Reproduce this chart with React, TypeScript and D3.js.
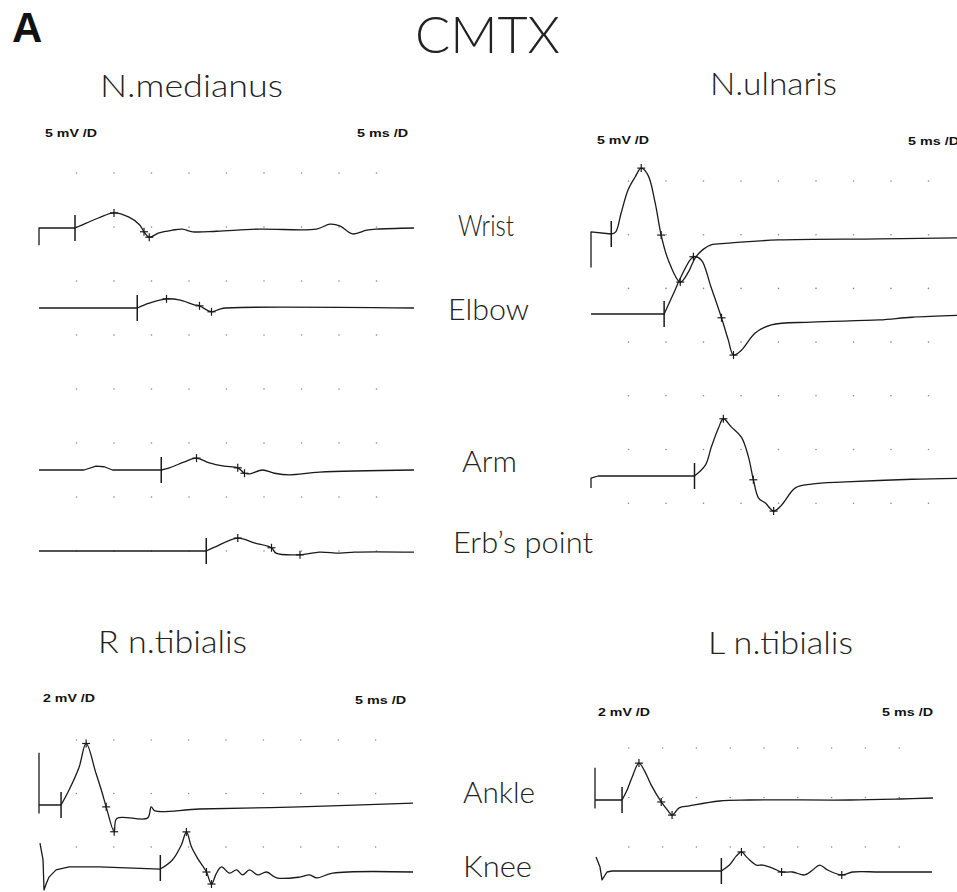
import React from "react";
import * as d3 from "d3";

// sweep: 10 divisions of 5 ms
const sweepMs = 50;
const timeGridMs = [5, 10, 15, 20, 25, 30, 35, 40, 45];

// traces as [ms, mV]
const medWrist: [number, number][] = [[0, -1.6], [0, 0], [4.8, 0], [6.3, 0.45], [8.0, 0.95], [10.0, 1.4], [12.0, 1.0], [13.4, 0.3], [14.0, -0.35], [14.7, -0.85], [16.0, -0.45], [17.8, -0.2], [19.1, -0.1], [20.5, -0.35], [23.7, -0.3], [29.4, -0.1], [37.0, -0.1], [38.8, 0.35], [40.1, 0.2], [41.8, -0.55], [43.7, -0.2], [45.0, -0.1], [50, 0]];
const medElbow: [number, number][] = [[0, 0], [13.1, 0], [14.7, 0.45], [17.0, 0.85], [18.7, 0.75], [20.7, 0.3], [21.4, 0.2], [23.0, -0.35], [24.1, -0.1], [24.9, 0], [50, 0]];
const medArm: [number, number][] = [[0, 0], [6.0, 0], [7.6, 0.35], [8.7, 0.3], [9.8, 0], [16.3, 0], [17.4, 0.2], [19.4, 0.75], [21.0, 1.1], [22.7, 0.65], [24.7, 0.35], [26.5, 0.2], [27.4, -0.3], [28.1, -0.35], [29.8, 0], [31.4, -0.3], [33.4, -0.45], [37.4, -0.2], [50, 0]];
const medErb: [number, number][] = [[0, 0], [22.3, 0], [23.4, 0.35], [26.5, 1.2], [28.7, 0.75], [31.0, 0.3], [31.6, -0.2], [34.8, -0.35], [37.4, -0.1], [40.1, -0.2], [42.1, -0.1], [50, -0.1]];

const ulnWrist: [number, number][] = [[0, -3.1], [0, 0.2], [2.7, 0], [3.3, 0.2], [4.0, 1.9], [4.95, 4.1], [5.9, 5.3], [6.7, 6.1], [7.6, 5.45], [8.55, 2.9], [9.35, -0.1], [10.3, -2.4], [11.9, -4.45], [13.0, -3.5], [13.9, -2.2], [15.0, -1.4], [16.0, -1.0], [18.3, -0.85], [25.0, -0.55], [38.4, -0.45], [48.7, -0.35], [50.4, -0.35]];
const ulnElbow: [number, number][] = [[0, 0], [9.75, 0], [11.2, 2.2], [12.0, 3.45], [13.65, 5.3], [14.7, 5.0], [16.0, 2.5], [17.4, -0.35], [18.3, -2.4], [19.0, -3.8], [20.05, -3.35], [21.9, -1.75], [24.05, -1.0], [29.4, -0.75], [38.4, -0.55], [42.8, -0.3], [50.4, -0.1]];
const ulnArm: [number, number][] = [[0, -1.1], [0, -0.2], [0.95, 0], [13.8, 0], [15.25, 1.0], [16.05, 2.7], [17.0, 4.45], [17.65, 5.3], [18.7, 4.55], [20.05, 3.6], [21.0, 1.75], [21.65, -0.35], [22.35, -2.05], [23.25, -2.5], [24.35, -3.25], [25.4, -2.7], [27.25, -1.1], [29.4, -0.75], [33.95, -0.55], [42.8, -0.3], [50.4, -0.2]];

const rtAnkle: [number, number][] = [[0, 1.95], [0, -0.3], [0, 0], [2.95, 0], [4.0, 0.55], [5.35, 1.4], [6.3, 2.3], [7.6, 1.2], [8.45, 0.45], [8.98, -0.07], [10.05, -1.0], [10.4, -0.5], [14.5, -0.49], [15.0, -0.07], [15.5, -0.22], [21.45, -0.15], [34.85, -0.07], [50, 0.07]];
const rtKnee: [number, number][] = [[0.13, 0.93], [0.54, 0.3], [0.67, -0.82], [0.95, -0.6], [1.34, -0.34], [2.28, -0.07], [4.02, 0.04], [8.04, 0.04], [16.22, -0.04], [17.83, 0.3], [19.03, 0.86], [19.71, 1.35], [20.38, 0.79], [21.18, 0.37], [22.39, -0.15], [23.06, -0.6], [23.73, -0.19], [24.4, 0.04], [25.47, -0.19], [26.41, -0.07], [27.21, -0.26], [28.15, -0.07], [29.22, -0.26], [30.43, -0.15], [31.77, -0.37], [34.85, -0.34], [36.19, -0.26], [37.13, -0.37], [39.28, -0.19], [50, -0.15]];

const ltAnkle: [number, number][] = [[0, 1.3], [0, -0.32], [0, 0], [4.0, 0], [4.75, 0.4], [5.5, 0.93], [6.5, 1.49], [7.27, 1.21], [8.3, 0.61], [9.8, -0.08], [10.7, -0.4], [11.4, -0.61], [12.45, -0.32], [13.95, -0.24], [18.4, -0.04], [22.85, 0], [37.7, 0], [45.1, 0.04], [50, 0.08]];
const ltKnee: [number, number][] = [[0.15, 0.57], [0.74, 0.16], [1.04, -0.36], [1.78, -0.04], [2.52, 0], [18.69, 0], [19.88, 0.24], [20.92, 0.61], [21.66, 0.77], [22.55, 0.53], [23.89, 0.24], [24.78, 0.24], [26.26, 0.12], [27.6, -0.04], [29.23, -0.04], [31.01, -0.16], [32.2, 0.04], [33.23, 0.24], [34.42, 0.04], [36.5, -0.16], [38.13, -0.04], [42.14, -0.04], [49.85, -0.04]];

// stimulus times (ms) and latency markers [ms, mV]
const medStim = [4.8, 13.1, 16.3, 22.3];
const medMarks: [number, number][][] = [
  [[10.0, 1.4], [14.0, -0.35], [14.7, -0.85]],
  [[17.0, 0.85], [21.4, 0.2], [23.0, -0.35]],
  [[21.0, 1.1], [26.5, 0.2], [27.4, -0.3]],
  [[26.5, 1.2], [31.0, 0.3], [34.8, -0.35]],
];
const ulnStim = [2.7, 9.75, 13.8];
const ulnMarks: [number, number][][] = [
  [[6.7, 6.1], [9.35, -0.1], [11.9, -4.45]],
  [[13.65, 5.3], [17.4, -0.35], [19.0, -3.8]],
  [[17.65, 5.3], [21.65, -0.35], [24.35, -3.25]],
];
const rtStim = [2.95, 16.22];
const rtMarks: [number, number][][] = [
  [[6.3, 2.3], [8.98, -0.07], [10.05, -1.0]],
  [[19.71, 1.35], [22.39, -0.15], [23.06, -0.6]],
];
const ltStim = [4.0, 18.69];
const ltMarks: [number, number][][] = [
  [[6.5, 1.49], [9.8, -0.08], [11.4, -0.61]],
  [[21.66, 0.77], [27.6, -0.04], [36.5, -0.16]],
];

const siteLabels = ["Wrist", "Elbow", "Arm", "Erb\u2019s point", "Ankle", "Knee"];
const panelTitles = ["N.medianus", "N.ulnaris", "R n.tibialis", "L n.tibialis"];
const gainLabels = ["5 mV /D", "5 mV /D", "2 mV /D", "2 mV /D"];
const sweepLabel = "5 ms /D";

const FONT = "Lato, 'Open Sans', 'Liberation Sans', sans-serif";
const BOLD = "'Liberation Sans', Arial, sans-serif";
const INK = "#1a1a1a";

type PanelCfg = {
  x0: number; w: number; gridTop: number; rowGap: number; rows: number; pxPerMv: number;
  bases: number[]; traces: [number, number][][]; stim: number[]; marks: [number, number][][];
  title: string; titleX: number; titleY: number; titleW: number;
  gain: string; gainX: number; gainY: number; sweepX: number; sweepY: number;
};

const panels: PanelCfg[] = [
  { x0: 39, w: 375, gridTop: 173, rowGap: 54, rows: 8, pxPerMv: 10.8, bases: [228, 308, 470, 551],
    traces: [medWrist, medElbow, medArm, medErb], stim: medStim, marks: medMarks,
    title: panelTitles[0], titleX: 100, titleY: 97, titleW: 183,
    gain: gainLabels[0], gainX: 45, gainY: 137, sweepX: 357, sweepY: 137 },
  { x0: 591, w: 375, gridTop: 181, rowGap: 53.7, rows: 7, pxPerMv: 10.8, bases: [234, 314, 476],
    traces: [ulnWrist, ulnElbow, ulnArm], stim: ulnStim, marks: ulnMarks,
    title: panelTitles[1], titleX: 710, titleY: 95, titleW: 127,
    gain: gainLabels[1], gainX: 597, gainY: 144, sweepX: 908, sweepY: 145 },
  { x0: 39, w: 374, gridTop: 740, rowGap: 53.5, rows: 3, pxPerMv: 26.75, bases: [805, 868],
    traces: [rtAnkle, rtKnee], stim: rtStim, marks: rtMarks,
    title: panelTitles[2], titleX: 98, titleY: 653, titleW: 149,
    gain: gainLabels[2], gainX: 43, gainY: 702, sweepX: 355, sweepY: 704 },
  { x0: 595, w: 338, gridTop: 748, rowGap: 49.5, rows: 3, pxPerMv: 24.75, bases: [800, 871],
    traces: [ltAnkle, ltKnee], stim: ltStim, marks: ltMarks,
    title: panelTitles[3], titleX: 708, titleY: 654, titleW: 145,
    gain: gainLabels[3], gainX: 598, gainY: 716, sweepX: 882, sweepY: 716 },
];

const sitePos = [
  { x: 458, y: 236, w: 56 },
  { x: 448, y: 320, w: 81 },
  { x: 462, y: 472, w: 55 },
  { x: 453, y: 553, w: 140 },
  { x: 463, y: 803, w: 72 },
  { x: 463, y: 877, w: 69 },
];

function Panel({ p }: { p: PanelCfg }) {
  const x = d3.scaleLinear().domain([0, sweepMs]).range([p.x0, p.x0 + p.w]);
  const dy = d3.scaleLinear().domain([0, 1]).range([0, -p.pxPerMv]);
  const rows = d3.range(p.rows).map((i) => p.gridTop + i * p.rowGap);
  return (
    <g>
      {rows.map((ry) =>
        timeGridMs.map((t) => (
          <circle key={`${ry}-${t}`} cx={x(t)} cy={ry} r={0.8} fill="#8a8a8a" />
        ))
      )}
      {p.traces.map((tr, i) => {
        const base = p.bases[i];
        const mk = (c: d3.CurveFactory) =>
          d3
            .line<[number, number]>()
            .x((d) => x(d[0]))
            .y((d) => base + dy(d[1]))
            .curve(c);
        // pre-stimulus part straight (artifact corners), response smooth
        const k = tr.findIndex((d) => d[0] >= p.stim[i] - 0.01);
        const pre = tr.slice(0, k + 1);
        const post = tr.slice(k);
        const sx = x(p.stim[i]);
        return (
          <g key={i} fill="none" stroke={INK} strokeWidth={1.3} strokeLinejoin="round">
            <path d={mk(d3.curveLinear)(pre) || ""} />
            <path d={mk(d3.curveCatmullRom.alpha(0.5))(post) || ""} />
            <line x1={sx} x2={sx} y1={base - 13} y2={base + 13} strokeWidth={1.5} />
            {p.marks[i].map((m, j) => {
              const mx = x(m[0]);
              const my = base + dy(m[1]);
              return (
                <g key={j} strokeWidth={1.2}>
                  <line x1={mx - 4} x2={mx + 4} y1={my} y2={my} />
                  <line x1={mx} x2={mx} y1={my - 4} y2={my + 4} />
                </g>
              );
            })}
          </g>
        );
      })}
      <text x={p.titleX} y={p.titleY} fontSize={31} fontWeight={300} fontFamily={FONT} fill="#222"
        textLength={p.titleW} lengthAdjust="spacingAndGlyphs">{p.title}</text>
      <text x={p.gainX} y={p.gainY} fontSize={11} fontWeight="bold" fontFamily={BOLD} fill="#111"
        textLength={52} lengthAdjust="spacingAndGlyphs">{p.gain}</text>
      <text x={p.sweepX} y={p.sweepY} fontSize={11} fontWeight="bold" fontFamily={BOLD} fill="#111"
        textLength={51} lengthAdjust="spacingAndGlyphs">{sweepLabel}</text>
    </g>
  );
}

export default function App() {
  return (
    <svg width={957} height={892} style={{ position: "absolute", left: 0, top: 0, background: "#fff" }}>
      <rect width={957} height={892} fill="#fff" />
      <text x={12} y={42} fontSize={42} fontWeight="bold" fontFamily={BOLD} fill="#111">A</text>
      <text x={415} y={53} fontSize={52} fontWeight={300} fontFamily={FONT} fill="#222"
        textLength={145} lengthAdjust="spacingAndGlyphs">CMTX</text>
      {panels.map((p, i) => (
        <Panel key={i} p={p} />
      ))}
      {siteLabels.map((s, i) => (
        <text key={s} x={sitePos[i].x} y={sitePos[i].y} fontSize={29} fontWeight={300} fontFamily={FONT} fill="#222"
          textLength={sitePos[i].w} lengthAdjust="spacingAndGlyphs">{s}</text>
      ))}
    </svg>
  );
}
